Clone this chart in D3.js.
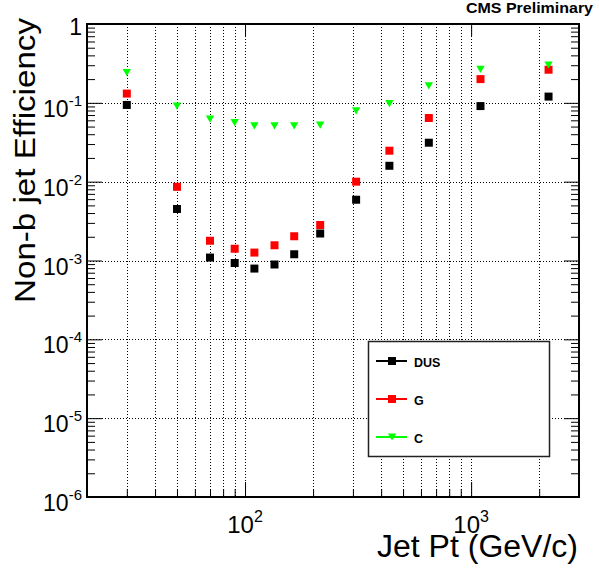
<!DOCTYPE html>
<html lang="en">
<head>
    <meta charset="UTF-8">
    <title>Non-b jet Efficiency</title>
    <script src="https://d3js.org/d3.v7.min.js"></script>
    <style>
        body {
            margin: 0;
            background-color: #ffffff;
        }
        svg text {
            font-family: "Liberation Sans", Arial, Helvetica, sans-serif;
            fill: #000;
        }
        .grid line {
            stroke: #000;
            stroke-width: 1;
            stroke-dasharray: 1,2;
        }
        .ticks line {
            stroke: #000;
            stroke-width: 1;
        }
        .ticks path {
            display: none;
        }
    </style>
</head>
<body>
<div id="chart"></div>
<script>
    // Jet Pt bin centres (GeV/c)
    var ptBins = [30, 50, 70, 90, 110, 135, 165, 215, 310, 435, 650, 1100, 2200];

    // mistag efficiencies per flavour
    var dusEff = [0.094, 0.0045, 0.00109, 0.00093, 0.00079, 0.00089, 0.0012, 0.0022, 0.0059, 0.0159, 0.0312, 0.091, 0.12];
    var gEff   = [0.131, 0.0086, 0.00178, 0.00141, 0.00126, 0.00156, 0.00203, 0.00282, 0.0100, 0.0247, 0.0642, 0.200, 0.263];
    var cEff   = [0.241, 0.091, 0.062, 0.056, 0.051, 0.051, 0.051, 0.052, 0.079, 0.0975, 0.164, 0.266, 0.302];

    var seriesNames = ["DUS", "G", "C"];
    var seriesColors = ["#000000", "#ff0000", "#00ff00"];

    // tick labels (powers of ten)
    var yTickExps = [0, -1, -2, -3, -4, -5, -6];
    var xTickExps = [2, 3];

    var width = 599, height = 569;
    var frame = {left: 87, right: 579, top: 24, bottom: 497};

    var svg = d3.select("#chart").append("svg")
        .attr("width", width)
        .attr("height", height);

    var x = d3.scaleLog().domain([20, 3000]).range([frame.left, frame.right]);
    var y = d3.scaleLog().domain([1e-6, 1]).range([frame.bottom, frame.top]);

    // tick positions
    var xMinor = [], xMajor = [100, 1000];
    [10, 100, 1000].forEach(function(d) {
        for (var k = 2; k <= 9; k++) {
            var v = d * k;
            if (v > 20 && v < 3000) xMinor.push(v);
        }
    });
    var yMajor = yTickExps.map(function(e) { return Math.pow(10, e); });
    var yMinor = [];
    yMajor.forEach(function(d) {
        if (d >= 1) return;
        for (var k = 2; k <= 9; k++) yMinor.push(d * k);
    });

    // dotted grid
    var grid = svg.append("g").attr("class", "grid");
    grid.selectAll(".vg")
        .data(xMinor.concat(xMajor))
        .enter().append("line")
        .attr("x1", function(d) { return Math.round(x(d)) + 0.5; })
        .attr("x2", function(d) { return Math.round(x(d)) + 0.5; })
        .attr("y1", frame.top)
        .attr("y2", frame.bottom);
    grid.selectAll(".hg")
        .data(yMajor.filter(function(d) { return d > 1e-6 && d < 1; }))
        .enter().append("line")
        .attr("x1", frame.left)
        .attr("x2", frame.right)
        .attr("y1", function(d) { return Math.round(y(d)) + 0.5; })
        .attr("y2", function(d) { return Math.round(y(d)) + 0.5; });

    // ticks on all four sides
    function addTicks(axis, transform) {
        svg.append("g").attr("class", "ticks")
            .attr("transform", transform)
            .call(axis);
    }
    addTicks(d3.axisLeft(y).tickValues(yMinor).tickSize(-8).tickFormat(""), "translate(" + frame.left + ",0)");
    addTicks(d3.axisLeft(y).tickValues(yMajor).tickSize(-15).tickFormat(""), "translate(" + frame.left + ",0)");
    addTicks(d3.axisRight(y).tickValues(yMinor).tickSize(-8).tickFormat(""), "translate(" + frame.right + ",0)");
    addTicks(d3.axisRight(y).tickValues(yMajor).tickSize(-15).tickFormat(""), "translate(" + frame.right + ",0)");
    addTicks(d3.axisBottom(x).tickValues(xMinor).tickSize(-8).tickFormat(""), "translate(0," + frame.bottom + ")");
    addTicks(d3.axisBottom(x).tickValues(xMajor).tickSize(-15).tickFormat(""), "translate(0," + frame.bottom + ")");
    addTicks(d3.axisTop(x).tickValues(xMajor).tickSize(-12).tickFormat(""), "translate(0," + frame.top + ")");

    // y tick labels
    yTickExps.forEach(function(e) {
        var v = Math.pow(10, e);
        if (e === 0) {
            svg.append("text")
                .attr("x", 82)
                .attr("y", y(v) + 11)
                .attr("text-anchor", "end")
                .style("font-size", "23px")
                .text("1");
            return;
        }
        var t = svg.append("text")
            .attr("x", 82)
            .attr("y", y(v) + 14)
            .attr("text-anchor", "end")
            .style("font-size", "23px");
        t.append("tspan").text("10");
        t.append("tspan").attr("dy", -11).style("font-size", "15px").text(e);
    });

    // x tick labels
    xTickExps.forEach(function(e) {
        var t = svg.append("text")
            .attr("x", x(Math.pow(10, e)))
            .attr("y", 533)
            .attr("text-anchor", "middle")
            .style("font-size", "24px");
        t.append("tspan").text("10");
        t.append("tspan").attr("dy", -11).style("font-size", "16px").text(e);
    });

    // markers
    var sq = d3.symbol().type(d3.symbolSquare).size(64);
    function triDown(cx, cy) {
        return "M" + (cx - 4.2) + "," + (cy - 3.6) + "L" + (cx + 4.2) + "," + (cy - 3.6) + "L" + cx + "," + (cy + 3.6) + "Z";
    }

    var allSeries = [dusEff, gEff, cEff];
    allSeries.forEach(function(vals, i) {
        var g = svg.append("g");
        var pts = ptBins.map(function(p, j) { return {pt: p, eff: vals[j]}; });
        if (i < 2) {
            g.selectAll("path").data(pts).enter().append("path")
                .attr("transform", function(d) { return "translate(" + x(d.pt) + "," + y(d.eff) + ")"; })
                .attr("d", sq)
                .attr("fill", seriesColors[i]);
        } else {
            g.selectAll("path").data(pts).enter().append("path")
                .attr("d", function(d) { return triDown(x(d.pt), y(d.eff)); })
                .attr("fill", seriesColors[i]);
        }
    });

    // frame
    svg.append("rect")
        .attr("x", frame.left)
        .attr("y", frame.top)
        .attr("width", frame.right - frame.left)
        .attr("height", frame.bottom - frame.top)
        .attr("fill", "none")
        .attr("stroke", "#000")
        .attr("stroke-width", 2);

    // legend
    var legend = svg.append("g");
    legend.append("rect")
        .attr("x", 368.5)
        .attr("y", 341.5)
        .attr("width", 181)
        .attr("height", 115)
        .attr("fill", "#fff")
        .attr("stroke", "#222")
        .attr("stroke-width", 1.5);
    seriesNames.forEach(function(name, i) {
        var ly = 361 + i * 38;
        legend.append("line")
            .attr("x1", 376).attr("x2", 407)
            .attr("y1", ly).attr("y2", ly)
            .attr("stroke", seriesColors[i])
            .attr("stroke-width", 2);
        if (i < 2) {
            legend.append("path")
                .attr("transform", "translate(392," + ly + ")")
                .attr("d", sq)
                .attr("fill", seriesColors[i]);
        } else {
            legend.append("path")
                .attr("d", triDown(392, ly))
                .attr("fill", seriesColors[i]);
        }
        legend.append("text")
            .attr("x", 414)
            .attr("y", ly + 5.5)
            .style("font-size", "12.5px")
            .style("font-weight", "bold")
            .text(name);
    });

    // titles
    svg.append("text")
        .attr("x", 593)
        .attr("y", 13)
        .attr("text-anchor", "end")
        .attr("textLength", 127)
        .attr("lengthAdjust", "spacingAndGlyphs")
        .style("font-size", "15px")
        .style("font-weight", "bold")
        .text("CMS Preliminary");

    svg.append("text")
        .attr("x", 578)
        .attr("y", 557)
        .attr("text-anchor", "end")
        .attr("textLength", 201)
        .attr("lengthAdjust", "spacingAndGlyphs")
        .style("font-size", "31px")
        .text("Jet Pt (GeV/c)");

    svg.append("text")
        .attr("transform", "translate(35,18) rotate(-90)")
        .attr("text-anchor", "end")
        .attr("textLength", 285)
        .attr("lengthAdjust", "spacingAndGlyphs")
        .style("font-size", "30px")
        .text("Non-b jet Efficiency");
</script>
</body>
</html>
